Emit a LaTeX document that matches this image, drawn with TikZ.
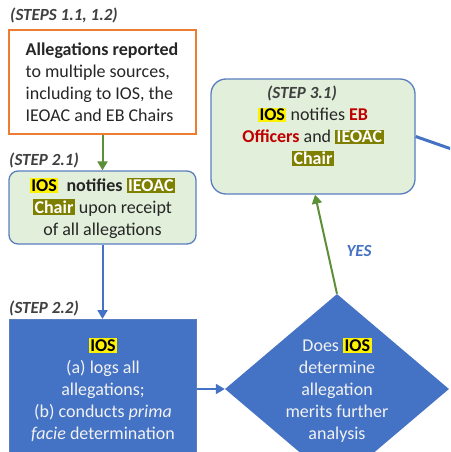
\documentclass[tikz,border=0pt]{standalone}
\usepackage{fontspec}
\setmainfont{Carlito}
\usetikzlibrary{shapes.geometric,arrows.meta}
\definecolor{orangeb}{HTML}{ED7D31}
\definecolor{greenf}{HTML}{E2EFDA}
\definecolor{blueb}{HTML}{4472C4}
\definecolor{boxline}{HTML}{5A7EBF}
\definecolor{greena}{HTML}{5B8F38}
\definecolor{oliveh}{HTML}{7F7F00}
\definecolor{redt}{HTML}{C00000}
\definecolor{steptext}{HTML}{404040}
\definecolor{bodytext}{HTML}{262626}
\definecolor{lighttext}{HTML}{F2F2F2}
\newcommand\hlY[1]{{\setlength{\fboxsep}{1.5pt}\colorbox{yellow}{\textcolor{black}{#1}}}}
\newcommand\hlO[1]{{\setlength{\fboxsep}{1.5pt}\colorbox{oliveh}{\textcolor{white}{#1}}}}
\tikzset{
  steplabel/.style={font=\fontsize{17}{20}\selectfont\bfseries\itshape, text=steptext, inner sep=0pt},
  body/.style={font=\fontsize{18}{22}\selectfont, text=bodytext, align=center, inner sep=0pt},
  lightbody/.style={font=\fontsize{18}{22}\selectfont, text=lighttext, align=center, inner sep=0pt},
  greenbox/.style={draw=boxline, line width=1.3pt, fill=greenf, rounded corners=#1},
  garrow/.style={draw=greena, line width=2pt, -{Triangle[width=10pt,length=9pt]}},
  barrow/.style={draw=blueb, line width=2pt, -{Triangle[width=10pt,length=9pt]}},
}
\begin{document}
\begin{tikzpicture}[x=1pt,y=-1pt]
\useasboundingbox (0,0) rectangle (450,452);
\clip (0,0) rectangle (450,452);
% boxes
\node[draw=orangeb, line width=1.3pt, fill=white, minimum width=187pt, minimum height=104pt, inner sep=0pt] (b1) at (102.5,82) {};
\node[body, align=left, anchor=center] (t1) at (102,82) {\textbf{Allegations reported}\\to multiple sources,\\including to IOS, the\\IEOAC and EB Chairs};
\node[steplabel, anchor=west] (l1) at (10,15) {(STEPS 1.1, 1.2)};

\node[greenbox=9pt, minimum width=187pt, minimum height=73pt, inner sep=0pt] (b21) at (102.5,207.5) {};
\node[body] (t21) at (102.5,208) {\hlY{\textbf{IOS}}\ \ \textbf{notifies} \hlO{\textbf{IEOAC}}\\\hlO{\textbf{Chair}} upon receipt\\of all allegations};
\node[steplabel, anchor=west] (l21) at (9,160) {(STEP 2.1)};

\node[fill=blueb, draw=boxline, line width=1pt, minimum width=187pt, minimum height=160pt, inner sep=0pt, anchor=north] (b22) at (102.5,319) {};
\node[lightbody] (t22) at (103,389.5) {\hlY{\textbf{IOS}}\\(a) logs all\\allegations;\\(b) conducts \textit{prima}\\\textit{facie} determination};
\node[steplabel, anchor=west] (l22) at (9,308) {(STEP 2.2)};

\node[diamond, fill=blueb, minimum width=224pt, minimum height=190pt, inner sep=0pt] (dia) at (337,389) {};
\node[lightbody] (tdia) at (337,390) {Does \hlY{\textbf{IOS}}\\determine\\allegation\\merits further\\analysis};

\node[greenbox=15pt, minimum width=204pt, minimum height=115pt, inner sep=0pt] (b31) at (313,136.5) {};
\node[steplabel] (l31) at (302,93) {(STEP 3.1)};
\node[body] (t31) at (313,137) {\hlY{\textbf{IOS}} notifies \textbf{\textcolor{redt}{EB}}\\\textbf{\textcolor{redt}{Officers}} and \hlO{\textbf{IEOAC}}\\\hlO{\textbf{Chair}}};

\node[font=\fontsize{17}{20}\selectfont\bfseries\itshape, text=blueb, inner sep=0pt] (yes) at (359,251) {YES};

% connectors
\draw[garrow] (b1.south) -- (b21.north);
\draw[barrow] (b21.south) -- (b22.north);
\draw[barrow] (b22.east |- dia.west) -- (dia.west);
\draw[garrow] (dia.north) -- ([xshift=2pt]b31.south);
\coordinate (off) at (460,152);
\draw[draw=blueb, line width=3pt] (b31.east) -- (off);
\end{tikzpicture}
\end{document}
